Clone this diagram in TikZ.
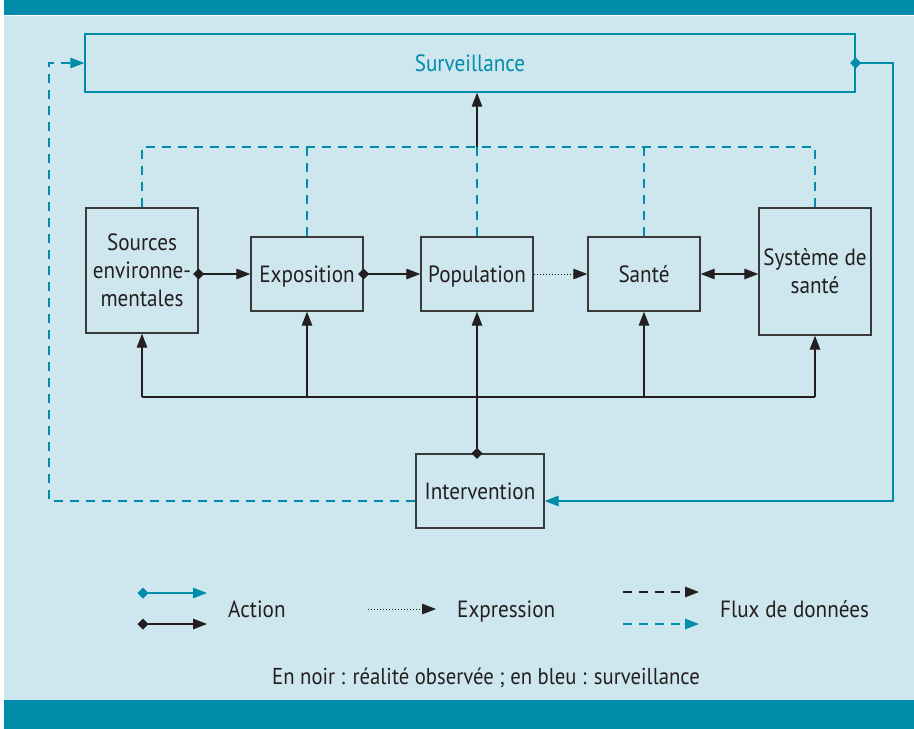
\documentclass[tikz,border=0pt]{standalone}
\usepackage{fontspec}
\setmainfont{PT Sans}[FakeStretch=0.9]
\usetikzlibrary{arrows.meta}
\definecolor{teal1}{HTML}{008DA9}
\definecolor{bgblue}{HTML}{CEE6EE}
\definecolor{ink}{HTML}{231F20}
\definecolor{boxline}{HTML}{3A3A3A}
\begin{document}
\begin{tikzpicture}[x=1pt,y=-1pt,
  box/.style={draw=boxline, line width=1.4pt, text=ink, align=center,
    minimum width=112pt, minimum height=74pt, inner sep=0pt, text depth=0pt,
    font=\fontsize{23.5}{28}\selectfont},
  lbl/.style={text=ink, inner sep=0pt, font=\fontsize{23.5}{28}\selectfont},
  ln/.style={draw=ink, line width=1.3pt},
  tln/.style={draw=teal1, line width=1.3pt},
  dashln/.style={dash pattern=on 9pt off 7pt},
  dotln/.style={dash pattern=on 1pt off 2pt, line width=1pt},
  tri/.style={-{Triangle[length=14pt,width=10.5pt]}},
  dtri/.style={{Diamond[length=11pt,width=11pt]}-{Triangle[length=14pt,width=10.5pt]}, shorten <=-5.5pt},
  bothtri/.style={{Triangle[length=14pt,width=10.5pt]}-{Triangle[length=14pt,width=10.5pt]}},
  dlinetri/.style={{Diamond[length=11pt,width=11pt]}-{Triangle[length=14pt,width=10.5pt]}, shorten <=-5.5pt}
]
\useasboundingbox (0,0) rectangle (914,729);
\fill[white] (0,0) rectangle (914,729);
\fill[bgblue] (4,16) rectangle (914,700);
\fill[teal1] (4,0) rectangle (914,15);
\fill[teal1] (4,700) rectangle (914,729);

% nodes
\node[draw=teal1, line width=1.4pt, minimum width=770pt, minimum height=58pt,
  inner sep=0pt, text depth=0pt, text=teal1, font=\fontsize{23.5}{28}\selectfont] (surv) at (470,63) {Surveillance};
\node[box, minimum height=125pt] (src) at (142,270.5) {Sources\\environne-\\mentales};
\node[box] (expo) at (307,274) {Exposition};
\node[box] (pop) at (477,274) {Population};
\node[box] (sante) at (644,274) {Santé};
\node[box, minimum height=127pt] (sys) at (815,271.5) {Système de\\santé};
\node[box, minimum width=128pt] (interv) at (480,491) {Intervention};

% coordinates
\coordinate (dataL) at (142,147);
\coordinate (dataR) at (815,147);
\coordinate (busL) at (142,397);
\coordinate (busR) at (815,397);
\coordinate (ir) at (893,501);
\coordinate (il) at (49,501);

% horizontal flow
\draw[ln, dtri] (src.east |- expo.west) -- (expo.west);
\draw[ln, dtri] (expo.east) -- (pop.west);
\draw[ln, dotln, tri] (pop.east) -- (sante.west);
\draw[ln, bothtri] (sante.east) -- (sys.west |- sante.east);

% data flow (teal dashed) to surveillance
\draw[tln, dashln] (src.north) -- (dataL) -- (dataR) -- (sys.north);
\draw[tln, dashln] (expo.north) -- (expo.north |- dataL);
\draw[tln, dashln] (pop.north) -- (pop.north |- dataL);
\draw[tln, dashln] (sante.north) -- (sante.north |- dataL);
\draw[ln, tri] (pop.north |- dataL) -- (surv.south -| pop.north);

% intervention bus
\draw[ln] (busL) -- (busR);
\draw[ln, tri] (busL) -- (src.south);
\draw[ln, tri] (expo.south |- busL) -- (expo.south);
\draw[ln, tri] (sante.south |- busL) -- (sante.south);
\draw[ln, tri] (busR) -- (sys.south);
\draw[ln, dlinetri] (interv.north -| pop.south) -- (pop.south);

% surveillance loop
\draw[tln, dlinetri] (surv.east) -| (ir) -- (interv.east |- ir);
\draw[tln, dashln, tri] (interv.west |- il) -- (il) |- (surv.west);

% legend
\coordinate (la1) at (143,593);
\coordinate (la2) at (207,593);
\coordinate (lb1) at (143,624);
\coordinate (lb2) at (207,624);
\draw[tln, dlinetri] (la1) -- (la2);
\draw[ln, dlinetri] (lb1) -- (lb2);
\node[lbl, anchor=base west] (lact) at (228,617) {Action};
\coordinate (le1) at (368,609);
\coordinate (le2) at (436,609);
\draw[ln, dotln, tri] (le1) -- (le2);
\node[lbl, anchor=base west] (lexp) at (457,617) {Expression};
\coordinate (lf1) at (623,592);
\coordinate (lf2) at (699,592);
\coordinate (lg1) at (623,624);
\coordinate (lg2) at (699,624);
\draw[ln, dashln, tri] (lf1) -- (lf2);
\draw[tln, dashln, tri] (lg1) -- (lg2);
\node[lbl, anchor=base west] (lflux) at (720,617) {Flux de données};

\node[lbl, anchor=base, font=\fontsize{23}{28}\selectfont] (cap) at (486,684) {En noir : réalité observée ; en bleu : surveillance};
\end{tikzpicture}
\end{document}
